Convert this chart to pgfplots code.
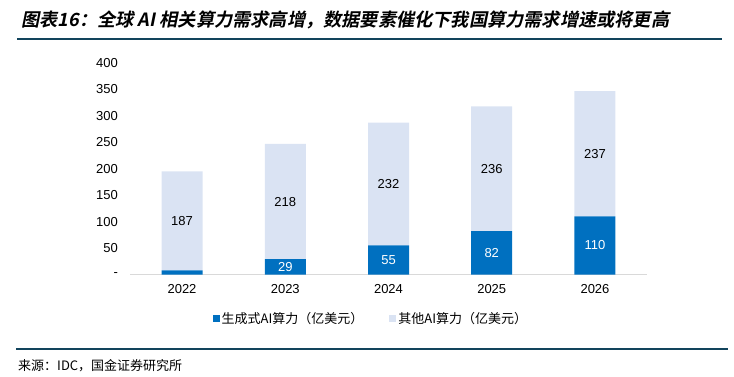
\documentclass[border=0pt]{standalone}
\usepackage{fontspec}
\usepackage{pgfplots}
\pgfplotsset{compat=1.18}
\setmainfont{Liberation Sans}
\newfontfamily\cjk{Noto Sans CJK SC}
\newfontfamily\cjkbold[FakeSlant=0.2]{Noto Sans CJK SC Bold}
\definecolor{darkbar}{RGB}{0,112,192}
\definecolor{lightbar}{RGB}{218,227,243}
\definecolor{rulecol}{RGB}{18,68,92}
\definecolor{axiscol}{RGB}{217,217,217}
\begin{document}
\begin{tikzpicture}
\path[use as bounding box] (0pt,0pt) rectangle (734pt,-377pt);
\node[anchor=west, inner sep=0pt, font=\cjkbold\fontsize{18.2}{21}\selectfont] at (21pt,-20pt) {图表16：全球 AI 相关算力需求高增，数据要素催化下我国算力需求增速或将更高};
\draw[rulecol, line width=2.4pt] (17pt,-39pt) -- (722pt,-39pt);
\draw[rulecol, line width=2.4pt] (16pt,-349pt) -- (728pt,-349pt);
\node[anchor=west, inner sep=0pt, font=\cjk\fontsize{13}{15}\selectfont] at (18pt,-366pt) {来源：IDC，国金证券研究所};

\begin{axis}[
  at={(130.4pt,-274.5pt)}, anchor=south west,
  scale only axis, width=516.2pt, height=211.5pt,
  xmin=-0.5, xmax=4.5, ymin=0, ymax=400,
  ybar stacked, bar width=41pt,
  axis x line*=bottom, axis y line*=left,
  y axis line style={draw=none},
  x axis line style={draw=axiscol, line width=0.8pt},
  major tick style={draw=none},
  xtick={0,1,2,3,4}, xticklabels={2022,2023,2024,2025,2026},
  ytick={0,50,100,150,200,250,300,350,400},
  yticklabels={{-},50,100,150,200,250,300,350,400},
  tick label style={font=\fontsize{13}{15}\selectfont, text=black},
  yticklabel style={xshift=-9pt},
  xticklabel style={yshift=-6pt},
  legend style={draw=none, fill=none, at={(0.466,-0.209)}, anchor=center,
    legend columns=2, font=\cjk\fontsize{13}{15}\selectfont,
    /tikz/every even column/.append style={column sep=24pt},
    legend cell align=left, inner sep=0pt},
]
\addplot[fill=darkbar, draw=none,
  legend image code/.code={\fill[darkbar] (0pt,-3.5pt) rectangle (7pt,3.5pt);}]
  coordinates {(0,8) (1,29) (2,55) (3,82) (4,110)};
\addlegendentry{生成式AI算力（亿美元）}
\addplot[fill=lightbar, draw=none,
  legend image code/.code={\fill[lightbar] (0pt,-3.5pt) rectangle (7pt,3.5pt);}]
  coordinates {(0,187) (1,218) (2,232) (3,236) (4,237)};
\addlegendentry{其他AI算力（亿美元）}
\end{axis}

\begin{axis}[
  at={(130.4pt,-274.5pt)}, anchor=south west,
  scale only axis, width=516.2pt, height=211.5pt,
  xmin=-0.5, xmax=4.5, ymin=0, ymax=400,
  hide axis, clip=false,
]
\addplot[draw=none, mark=none, nodes near coords, point meta=explicit symbolic,
  every node near coord/.style={anchor=center, font=\fontsize{13}{15}\selectfont, text=black}]
  coordinates {(0,101.5)[187] (1,138)[218] (2,171)[232] (3,200)[236] (4,228.5)[237]};
\addplot[draw=none, mark=none, nodes near coords, point meta=explicit symbolic,
  every node near coord/.style={anchor=center, font=\fontsize{13}{15}\selectfont, text=white}]
  coordinates {(1,14.5)[29] (2,27.5)[55] (3,41)[82] (4,55)[110]};
\end{axis}
\end{tikzpicture}
\end{document}
